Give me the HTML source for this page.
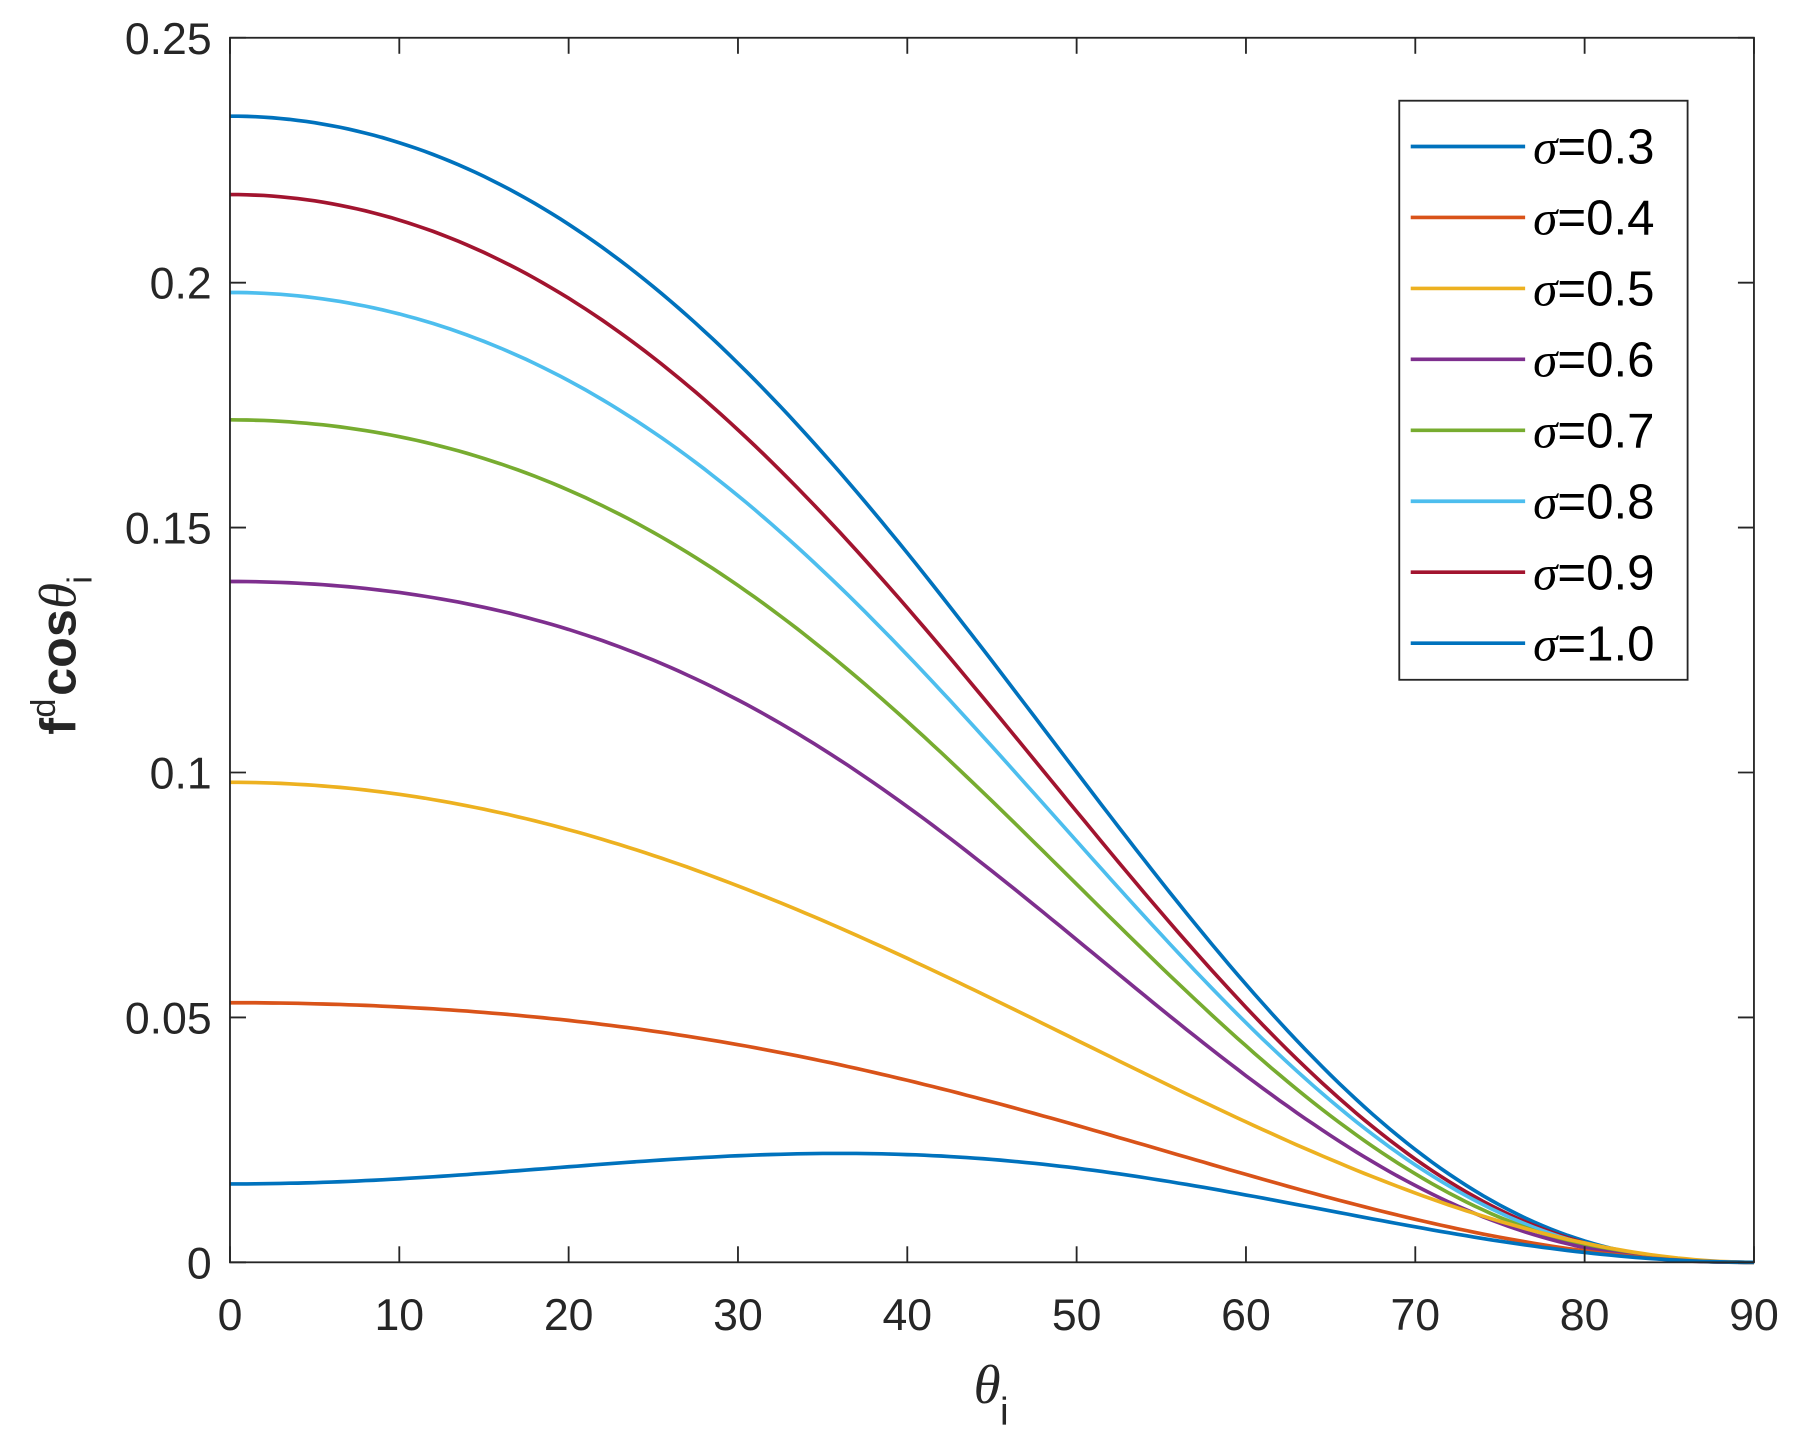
<!DOCTYPE html>
<html><head><style>html,body{margin:0;padding:0;background:#fff}svg{display:block}</style></head>
<body>
<svg id="s" width="1794" height="1450" viewBox="0 0 1568 1267" preserveAspectRatio="none" xmlns="http://www.w3.org/2000/svg" font-family="Liberation Sans, Arial, sans-serif">
<rect width="1568" height="1267" fill="#fff"/>
<g id="curves" fill="none" stroke-width="3.2"></g>
<rect x="201" y="33" width="1332" height="1070" fill="none" stroke="#262626" stroke-width="1.6"/>
<g id="ticks" stroke="#262626" stroke-width="1.6"></g>
<g id="labels" font-size="39" fill="#262626"></g>
<text x="851" y="1226" font-size="48" font-style="italic" font-family="Liberation Serif, serif" fill="#262626">θ</text>
<text x="874" y="1245" font-size="34" fill="#262626">i</text>
<g transform="translate(66,642) rotate(-90)" fill="#262626" font-weight="bold">
<text x="0" y="0" font-size="44">f</text><text x="15" y="-18" font-size="30" font-weight="normal">d</text><text x="34" y="0" font-size="44">cos</text><text x="110" y="0" font-size="46" font-style="italic" font-weight="normal" font-family="Liberation Serif, serif">θ</text><text x="132" y="14" font-size="30" font-weight="normal">i</text>
</g>
<rect x="1223" y="88" width="252" height="506" fill="#fff" stroke="#262626" stroke-width="1.6"/>
<g id="legend" font-size="43" fill="#000"></g>
</svg>
<script>
const X=t=>201+t/90*1332, Y=v=>1103-v*4280;
const series=[
["#0072BD",0.234,0.116,2.5],["#A2142F",0.218,0.102,2.5],["#4DBEEE",0.198,0.105,2.5],["#77AC30",0.172,0.104,2.5],
["#7E2F8E",0.139,0.102,2.5],["#EDB120",0.098,0.012,1.9],["#D95319",0.053,0.025,2],["#0072BD",0.016,0.052,2]];
let g=document.getElementById('curves'),h='';
for(const [c,a,b,p] of series){let d='';for(let t=0;t<=90;t+=0.5){const r=t*Math.PI/180,cs=Math.max(0,Math.cos(r)),sn=Math.sin(r);const f=Math.pow(cs,p)*(a+b*sn*sn);d+=(t?'L':'M')+X(t).toFixed(1)+','+Y(f).toFixed(1);}h+=`<path d="${d}" stroke="${c}"/>`;}
g.innerHTML=h;
let tk='',lb='';
for(let i=0;i<=9;i++){const x=X(i*10);tk+=`<line x1="${x}" y1="1103" x2="${x}" y2="1089"/><line x1="${x}" y1="33" x2="${x}" y2="47"/>`;lb+=`<text x="${x}" y="1162" text-anchor="middle">${i*10}</text>`;}
const yl=['0','0.05','0.1','0.15','0.2','0.25'];
for(let i=0;i<=5;i++){const y=Y(i*0.05);tk+=`<line x1="201" y1="${y}" x2="215" y2="${y}"/><line x1="1533" y1="${y}" x2="1519" y2="${y}"/>`;lb+=`<text x="185" y="${y+14}" text-anchor="end">${yl[i]}</text>`;}
document.getElementById('ticks').innerHTML=tk;document.getElementById('labels').innerHTML=lb;
const lc=["#0072BD","#D95319","#EDB120","#7E2F8E","#77AC30","#4DBEEE","#A2142F","#0072BD"];
const ln=["0.3","0.4","0.5","0.6","0.7","0.8","0.9","1.0"];let lg='';
for(let i=0;i<8;i++){const y=128+i*62;lg+=`<line x1="1233" y1="${y}" x2="1333" y2="${y}" stroke="${lc[i]}" stroke-width="3.2"/><text x="1340" y="${y+15}"><tspan font-style="italic" font-family="Liberation Serif, serif">σ</tspan>=${ln[i]}</text>`;}
document.getElementById('legend').innerHTML=lg;
</script>
</body></html>
